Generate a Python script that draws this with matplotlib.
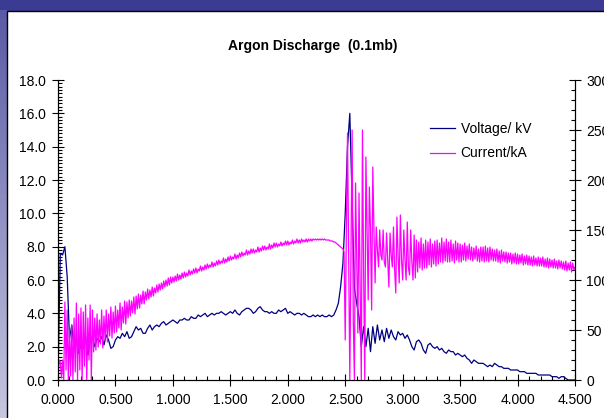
import numpy as np
import matplotlib
matplotlib.use("Agg")
import matplotlib.pyplot as plt
from matplotlib.patches import Rectangle
from matplotlib.colors import LinearSegmentedColormap
from matplotlib.ticker import MultipleLocator, FormatStrFormatter

plt.rcParams['font.family'] = ['Liberation Sans', 'DejaVu Sans']

# voltage (kV), sampled every 0.02 on the time axis
voltage_kv = [
    0, 7.6, 7.5, 8.0, 6.2, 2.5, 3.3, 1.8, 2.4, 1.6,
    2.2, 1.9, 2.6, 1.5, 2.4, 2.6, 2.0, 2.5, 2.3, 2.6,
    2.1, 2.7, 2.4, 1.9, 2.0, 2.4, 2.6, 2.5, 2.8, 2.6,
    2.9, 2.5, 2.6, 2.9, 3.2, 3.0, 3.1, 2.8, 2.8, 3.1,
    3.3, 3.0, 3.2, 3.3, 3.2, 3.4, 3.5, 3.3, 3.4, 3.5,
    3.6, 3.5, 3.4, 3.6, 3.6, 3.7, 3.6, 3.6, 3.8, 3.7,
    3.7, 3.9, 3.8, 3.9, 4.0, 3.8, 3.9, 4.0, 3.9, 4.0,
    4.0, 4.1, 4.0, 3.9, 4.0, 4.1, 4.0, 4.2, 4.0, 3.9,
    4.1, 4.2, 4.3, 4.3, 4.2, 4.0, 4.1, 4.3, 4.4, 4.2,
    4.1, 4.1, 4.0, 4.1, 4.0, 4.0, 4.2, 4.1, 4.2, 4.3,
    4.0, 4.1, 4.0, 3.9, 4.0, 4.0, 3.9, 4.0, 3.9, 3.8,
    3.8, 3.9, 3.8, 3.9, 3.8, 3.9, 3.8, 3.8, 3.9, 3.8,
    3.9, 4.2, 4.6, 5.6, 7.0, 10.0, 14.0, 16.0, 10.8, 5.5,
    4.6, 3.8, 2.0, 3.2, 2.0, 3.1, 1.7, 3.2, 2.2, 3.3,
    2.4, 3.0, 2.3, 3.1, 2.5, 3.0, 2.6, 2.4, 2.9, 2.7,
    2.8, 2.5, 2.7, 2.4, 2.0, 1.8, 2.3, 2.4, 2.2, 1.8,
    1.6, 2.1, 2.2, 2.0, 1.9, 2.0, 1.8, 1.9, 1.7, 1.6,
    1.8, 1.7, 1.7, 1.5, 1.6, 1.5, 1.4, 1.5, 1.3, 1.2,
    1.0, 1.2, 1.1, 1.0, 1.0, 1.0, 0.9, 0.8, 0.9, 0.8,
    1.0, 0.9, 0.8, 0.8, 0.7, 0.7, 0.7, 0.6, 0.6, 0.6,
    0.6, 0.5, 0.5, 0.5, 0.4, 0.4, 0.4, 0.4, 0.4, 0.3,
    0.3, 0.3, 0.3, 0.3, 0.3, 0.2, 0.2, 0.2, 0.1, 0.2,
    0.2, 0.1, 0.0, 0.0, 0.0, 0.0,
]

# current (kA), sampled every 0.01 on the time axis
current_ka = [
    0, 20, 18, 2, 20, 0, 78, 10, 70, 0,
    50, 4, 55, 0, 62, 8, 77, 0, 66, 10,
    72, 0, 68, 14, 75, 0, 62, 20, 75, 0,
    70, 28, 62, 30, 66, 33, 60, 36, 70, 32,
    64, 40, 70, 38, 66, 44, 73, 42, 68, 47,
    74, 48, 70, 52, 77, 50, 73, 57, 79, 56,
    78, 62, 80, 64, 79, 67, 83, 66, 84, 71,
    86, 72, 85, 76, 89, 76, 88, 80, 91, 81,
    90, 83, 93, 84, 92, 87, 95, 88, 96, 90,
    97, 91, 99, 93, 100, 94, 102, 95, 103, 97,
    103, 98, 104, 99, 106, 100, 105, 101, 107, 102,
    108, 103, 107, 104, 110, 105, 109, 106, 111, 107,
    112, 107, 111, 109, 114, 109, 113, 110, 115, 111,
    116, 112, 115, 113, 118, 113, 117, 114, 119, 115,
    120, 116, 119, 117, 122, 117, 121, 118, 123, 119,
    124, 120, 123, 121, 126, 121, 125, 122, 127, 123,
    128, 124, 127, 125, 130, 125, 129, 126, 131, 127,
    131, 127, 130, 128, 133, 128, 132, 129, 134, 130,
    134, 130, 133, 131, 136, 131, 135, 132, 137, 133,
    137, 133, 136, 134, 138, 134, 137, 135, 139, 135,
    139, 135, 138, 136, 140, 136, 139, 137, 141, 137,
    140, 137, 141, 138, 140, 138, 141, 138, 141, 139,
    141, 139, 141, 140, 141, 140, 141, 140, 141, 140,
    141, 140, 141, 140, 140, 140, 140, 139, 139, 139,
    138, 138, 137, 136, 135, 134, 133, 132, 131, 128,
    40, 150, 247, 120, 0, 130, 250, 60, 0, 197,
    120, 47, 187, 90, 0, 250, 110, 0, 223, 150,
    80, 193, 150, 70, 213, 150, 97, 153, 130, 113,
    150, 125, 120, 150, 118, 113, 147, 120, 93, 147,
    125, 113, 153, 110, 87, 163, 125, 97, 165, 120,
    100, 150, 120, 100, 158, 112, 105, 150, 118, 100,
    145, 102, 140, 108, 138, 112, 142, 110, 136, 112,
    140, 112, 138, 115, 141, 113, 136, 116, 139, 114,
    140, 116, 137, 118, 142, 117, 138, 119, 141, 118,
    138, 118, 140, 119, 136, 117, 139, 120, 137, 118,
    136, 118, 135, 120, 137, 119, 134, 121, 136, 120,
    133, 119, 132, 121, 134, 119, 131, 118, 133, 119,
    133, 118, 134, 119, 132, 118, 133, 120, 131, 119,
    130, 119, 131, 118, 129, 117, 130, 119, 128, 118,
    128, 117, 127, 118, 127, 116, 126, 117, 127, 116,
    126, 116, 125, 117, 126, 115, 124, 116, 125, 115,
    124, 115, 123, 114, 124, 115, 122, 114, 123, 114,
    122, 114, 123, 113, 121, 113, 122, 112, 121, 113,
    120, 112, 121, 112, 119, 111, 120, 112, 119, 111,
    118, 110, 119, 109, 117, 110, 118, 108, 117, 110,
    113,
]

t_voltage = np.arange(len(voltage_kv)) * 0.02
t_current = np.arange(len(current_ka)) * 0.01

W, H = 604, 418
fig = plt.figure(figsize=(W / 100, H / 100), dpi=100, facecolor='#3b3b93')

# slide background: gradient strip on the left, white panel with black edge
strip = fig.add_axes([0, 0, 7 / W, 1 - 10 / H])
strip.set_zorder(-10)
grad = LinearSegmentedColormap.from_list('slide', ['#5a5aa6', '#c6c6df'])
strip.imshow(np.linspace(0, 1, 100).reshape(-1, 1), aspect='auto', cmap=grad)
strip.axis('off')
fig.add_artist(Rectangle((7 / W, -0.01), 1, 1 - 11 / H + 0.01, transform=fig.transFigure,
                         facecolor='white', edgecolor='black', lw=1, zorder=-5))

ax = fig.add_axes([58 / W, 38 / H, 517 / W, 300 / H])
ax.patch.set_alpha(0)
ax2 = ax.twinx()

l1, = ax.plot(t_voltage, voltage_kv, color='#000080', lw=0.9)
l2, = ax2.plot(t_current, current_ka, color='#ff00ff', lw=0.9)

ax.set_xlim(0, 4.5)
ax.set_ylim(0, 18)
ax2.set_ylim(0, 300)

ax.xaxis.set_major_locator(MultipleLocator(0.5))
ax.xaxis.set_minor_locator(MultipleLocator(0.1))
ax.xaxis.set_major_formatter(FormatStrFormatter('%.3f'))
ax.yaxis.set_major_locator(MultipleLocator(2))
ax.yaxis.set_minor_locator(MultipleLocator(0.2))
ax.yaxis.set_major_formatter(FormatStrFormatter('%.1f'))
ax2.yaxis.set_major_locator(MultipleLocator(50))
ax2.yaxis.set_minor_locator(MultipleLocator(10))

for a in (ax, ax2):
    a.spines['top'].set_visible(False)
    a.tick_params(which='major', direction='inout', length=8, width=0.8, labelsize=10)
    a.tick_params(which='minor', direction='in', length=3, width=0.8)
ax.tick_params(axis='x', which='major', pad=5)
ax.tick_params(axis='y', which='major', pad=5)
ax2.tick_params(axis='y', which='major', pad=4)

fig.text(313 / W, 1 - 46 / H, 'Argon Discharge  (0.1mb)', ha='center', va='center',
         fontsize=10, fontweight='bold')

fig.legend([l1, l2], ['Voltage/ kV', 'Current/kA'], loc='upper left',
           bbox_to_anchor=(430 / W, 1 - 122 / H), frameon=False, fontsize=10,
           handlelength=1.8, handletextpad=0.4, labelspacing=0.75, borderpad=0,
           borderaxespad=0)

fig.savefig('out.png', dpi=100, facecolor=fig.get_facecolor())
